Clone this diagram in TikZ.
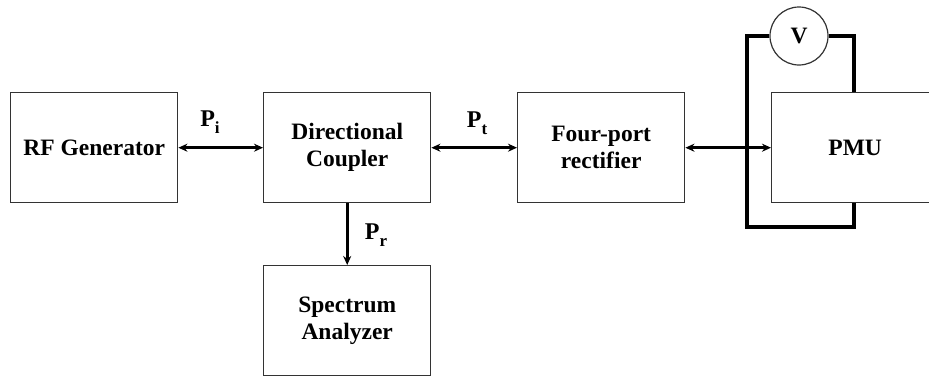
\documentclass[tikz,border=0pt]{standalone}
\usepackage{fontspec}
\setmainfont{Liberation Serif}
\usetikzlibrary{arrows.meta}
\newcommand{\sublbl}[2]{#1\raisebox{-0.3em}{\fontsize{17}{17}\selectfont #2}}
\begin{document}
\begin{tikzpicture}[x=1pt,y=-1pt,
  blk/.style={draw=black!80,line width=1.4pt,minimum width=167pt,minimum height=110pt,anchor=north west,inner sep=0pt,align=center,font=\fontsize{23.5}{27}\selectfont\bfseries},
  conn/.style={line width=2.6pt,{Stealth[length=9pt,width=8pt]}-{Stealth[length=9pt,width=8pt]}},
  lbl/.style={font=\fontsize{24}{26}\selectfont\bfseries,inner sep=0pt},
  loopline/.style={line width=3.2pt}]
\useasboundingbox (0,0) rectangle (929,381);
\node[blk] (rf) at (10,92) {RF Generator};
\node[blk] (dc) at (263,92) {Directional\\Coupler};
\node[blk] (fp) at (517,92) {Four-port\\rectifier};
\node[blk,minimum width=175pt] (pmu) at (771,92) {PMU\hspace*{8pt}};
\node[blk] (sa) at (263,265) {Spectrum\\Analyzer};
\draw[conn] (rf.east) -- (dc.west);
\draw[conn] (dc.east) -- (fp.west);
\node[lbl] (pi) at (210,122) {\sublbl{P}{i}};
\node[lbl] (pt) at (477,123) {\sublbl{P}{t}};
\draw[line width=2.6pt,-{Stealth[length=9pt,width=8pt]}] (dc.south) -- (sa.north);
\node[lbl] (pr) at (376,235) {\sublbl{P}{r}};
\draw[conn] (fp.east) -- (pmu.west);
\node[draw=black!80,line width=1.2pt,circle,minimum size=58pt,inner sep=0pt,font=\fontsize{23.5}{27}\selectfont\bfseries,fill=white] (v) at (799,36) {V};
\coordinate (tl) at (747,36);
\coordinate (bl) at (747,227);
\coordinate (br) at (854,227);
\coordinate (tr) at (854,36);
\draw[loopline] (v.west) -- (tl) -- (bl) -- (br) -- (br |- pmu.south);
\draw[loopline] (v.east) -- (tr) -- (tr |- pmu.north);
\end{tikzpicture}
\end{document}
